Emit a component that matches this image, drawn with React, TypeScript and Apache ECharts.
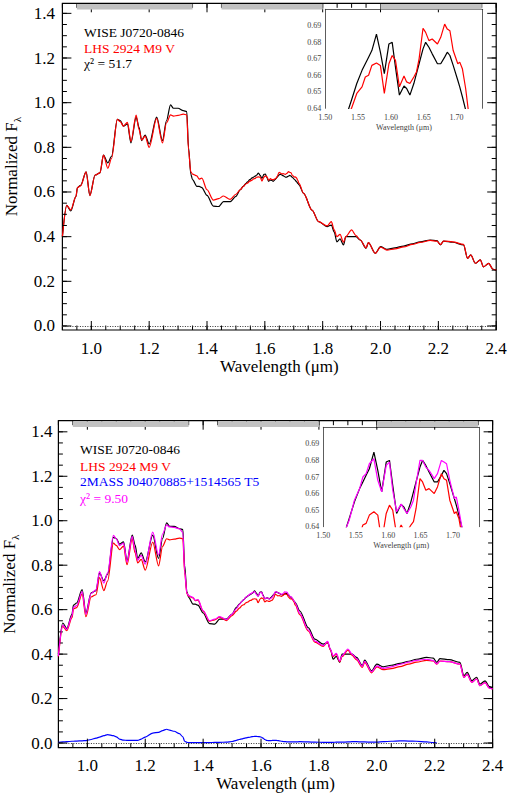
import React, { useEffect, useRef } from "react";
import * as echarts from "echarts";

const FONT = '"Liberation Serif", "Times New Roman", serif';

// Wavelength grid (micron)
const wavelength = [
  0.900, 0.915, 0.929, 0.947, 0.952, 0.963, 0.982, 0.995, 1.013, 1.030,
  1.042, 1.057, 1.070, 1.090, 1.100, 1.111, 1.125, 1.137, 1.155, 1.165,
  1.174, 1.186, 1.200, 1.226, 1.246, 1.260, 1.274, 1.284, 1.300, 1.318,
  1.330, 1.336, 1.344, 1.350, 1.365, 1.373, 1.382, 1.400, 1.422, 1.440,
  1.457, 1.480, 1.500, 1.515, 1.525, 1.535, 1.540, 1.548, 1.556, 1.561,
  1.566, 1.571, 1.578, 1.584, 1.590, 1.597, 1.602, 1.607, 1.613, 1.620,
  1.624, 1.629, 1.635, 1.639, 1.643, 1.649, 1.653, 1.658, 1.663, 1.671,
  1.676, 1.682, 1.686, 1.690, 1.695, 1.702, 1.705, 1.709, 1.714, 1.718,
  1.734, 1.763, 1.786, 1.815, 1.830, 1.840, 1.849, 1.860, 1.872, 1.880,
  1.900, 1.915, 1.930, 1.950, 1.958, 1.982, 2.000, 2.022, 2.050, 2.080,
  2.110, 2.137, 2.172, 2.195, 2.207, 2.218, 2.250, 2.287, 2.301, 2.312,
  2.328, 2.345, 2.356, 2.374, 2.389, 2.400,
];

// WISE J0720-0846 (black)
const wiseFlux = [
  0.40, 0.54, 0.515, 0.58, 0.62, 0.63, 0.69, 0.585, 0.676, 0.686,
  0.765, 0.73, 0.76, 0.925, 0.92, 0.895, 0.905, 0.82, 0.935, 0.89,
  0.83, 0.855, 0.815, 0.935, 0.83, 0.92, 0.99, 0.975, 0.975, 0.964,
  0.96, 0.80, 0.68, 0.655, 0.625, 0.625, 0.62, 0.585, 0.537, 0.535,
  0.557, 0.557, 0.58, 0.61, 0.625, 0.639, 0.645, 0.655, 0.663, 0.667,
  0.671, 0.675, 0.685, 0.674, 0.661, 0.679, 0.680, 0.665, 0.648, 0.6535,
  0.652, 0.648, 0.655, 0.661, 0.667, 0.676, 0.680, 0.677, 0.673, 0.667,
  0.667, 0.671, 0.674, 0.672, 0.666, 0.657, 0.653, 0.647, 0.639, 0.632,
  0.594, 0.519, 0.467, 0.445, 0.452, 0.42, 0.377, 0.39, 0.363, 0.40,
  0.40, 0.40, 0.385, 0.348, 0.373, 0.325, 0.355, 0.343, 0.35, 0.358,
  0.368, 0.377, 0.385, 0.382, 0.363, 0.38, 0.375, 0.363, 0.303, 0.318,
  0.281, 0.296, 0.265, 0.28, 0.254, 0.25,
];

// LHS 2924 M9 V, top panel normalisation (red)
const lhsTopFlux = [
  0.40, 0.54, 0.52, 0.58, 0.62, 0.627, 0.69, 0.584, 0.676, 0.686,
  0.765, 0.706, 0.75, 0.925, 0.915, 0.895, 0.912, 0.825, 0.944, 0.88,
  0.833, 0.85, 0.80, 0.93, 0.82, 0.91, 0.945, 0.94, 0.943, 0.949,
  0.945, 0.79, 0.69, 0.68, 0.672, 0.658, 0.662, 0.61, 0.564, 0.57,
  0.582, 0.567, 0.59, 0.61, 0.624, 0.637, 0.640, 0.649, 0.653, 0.659,
  0.660, 0.666, 0.6675, 0.666, 0.649, 0.667, 0.672, 0.669, 0.653, 0.6596,
  0.656, 0.655, 0.659, 0.662, 0.670, 0.6885, 0.686, 0.681, 0.682, 0.679,
  0.683, 0.691, 0.688, 0.687, 0.675, 0.667, 0.668, 0.664, 0.652, 0.639,
  0.594, 0.519, 0.467, 0.448, 0.467, 0.43, 0.40, 0.41, 0.375, 0.40,
  0.43, 0.405, 0.385, 0.35, 0.373, 0.325, 0.353, 0.34, 0.345, 0.354,
  0.365, 0.374, 0.383, 0.38, 0.365, 0.38, 0.377, 0.365, 0.303, 0.318,
  0.281, 0.296, 0.265, 0.28, 0.254, 0.25,
];

// LHS 2924 M9 V, bottom panel (red, composite fit component)
const lhsBottomFlux = [
  0.389, 0.525, 0.505, 0.564, 0.603, 0.609, 0.671, 0.568, 0.657, 0.667,
  0.744, 0.686, 0.729, 0.899, 0.889, 0.870, 0.886, 0.802, 0.918, 0.855,
  0.810, 0.826, 0.778, 0.904, 0.797, 0.885, 0.919, 0.914, 0.917, 0.922,
  0.919, 0.768, 0.671, 0.661, 0.653, 0.640, 0.643, 0.593, 0.548, 0.554,
  0.566, 0.551, 0.573, 0.593, 0.607, 0.619, 0.622, 0.631, 0.635, 0.641,
  0.642, 0.647, 0.649, 0.647, 0.631, 0.648, 0.653, 0.650, 0.635, 0.641,
  0.638, 0.637, 0.641, 0.643, 0.651, 0.669, 0.667, 0.662, 0.663, 0.660,
  0.664, 0.672, 0.669, 0.668, 0.656, 0.648, 0.649, 0.645, 0.634, 0.621,
  0.577, 0.504, 0.454, 0.435, 0.454, 0.418, 0.389, 0.399, 0.365, 0.389,
  0.418, 0.394, 0.374, 0.340, 0.363, 0.316, 0.343, 0.330, 0.335, 0.344,
  0.355, 0.364, 0.372, 0.369, 0.355, 0.369, 0.366, 0.355, 0.295, 0.309,
  0.273, 0.288, 0.258, 0.272, 0.247, 0.243,
];

// 2MASS J04070885+1514565 T5 component (blue)
const t5Flux = [
  0.003, 0.005, 0.006, 0.008, 0.008, 0.009, 0.010, 0.011, 0.016, 0.022,
  0.027, 0.033, 0.038, 0.033, 0.028, 0.018, 0.013, 0.012, 0.012, 0.012,
  0.012, 0.018, 0.027, 0.045, 0.048, 0.056, 0.062, 0.058, 0.053, 0.042,
  0.028, 0.008, 0.003, 0.002, 0.002, 0.002, 0.002, 0.002, 0.002, 0.003,
  0.003, 0.004, 0.007, 0.012, 0.016, 0.019, 0.021, 0.023, 0.025, 0.026,
  0.028, 0.029, 0.030, 0.030, 0.029, 0.028, 0.026, 0.022, 0.016, 0.012,
  0.011, 0.011, 0.011, 0.012, 0.012, 0.012, 0.012, 0.011, 0.010, 0.008,
  0.007, 0.006, 0.006, 0.005, 0.005, 0.005, 0.005, 0.005, 0.005, 0.005,
  0.006, 0.005, 0.004, 0.003, 0.003, 0.003, 0.003, 0.004, 0.004, 0.004,
  0.005, 0.006, 0.006, 0.005, 0.005, 0.004, 0.004, 0.006, 0.008, 0.010,
  0.009, 0.008, 0.005, 0.002, 0.001, null, null, null, null, null,
  null, null, null, null, null, null,
];

// Composite fit, chi^2 = 9.50 (magenta)
const fitFlux = [
  0.392, 0.530, 0.511, 0.572, 0.611, 0.618, 0.681, 0.579, 0.673, 0.689,
  0.771, 0.719, 0.766, 0.934, 0.919, 0.888, 0.899, 0.814, 0.930, 0.867,
  0.822, 0.844, 0.805, 0.949, 0.845, 0.941, 0.981, 0.972, 0.970, 0.964,
  0.947, 0.776, 0.674, 0.663, 0.655, 0.642, 0.645, 0.595, 0.550, 0.557,
  0.569, 0.555, 0.580, 0.605, 0.623, 0.639, 0.644, 0.656, 0.663, 0.670,
  0.672, 0.678, 0.681, 0.668, 0.661, 0.677, 0.679, 0.662, 0.649, 0.6536,
  0.651, 0.648, 0.652, 0.656, 0.666, 0.680, 0.680, 0.676, 0.674, 0.669,
  0.672, 0.680, 0.679, 0.678, 0.668, 0.657, 0.658, 0.650, 0.639, 0.630,
  0.583, 0.509, 0.458, 0.438, 0.457, 0.421, 0.392, 0.403, 0.369, 0.393,
  0.423, 0.399, 0.380, 0.345, 0.368, 0.320, 0.347, 0.336, 0.343, 0.354,
  0.364, 0.372, 0.377, 0.371, 0.356, 0.369, 0.366, 0.355, 0.295, 0.309,
  0.273, 0.288, 0.258, 0.272, 0.247, 0.243,
];

// J, H, K band markers along the top of each panel
const bandStart = [0.95, 1.45, 2.0];
const bandEnd = [1.35, 1.8, 2.35];

// Ticks
const xTickLabels = ["1.0", "1.2", "1.4", "1.6", "1.8", "2.0", "2.2", "2.4"];
const yTickLabels = ["0.0", "0.2", "0.4", "0.6", "0.8", "1.0", "1.2", "1.4"];
const insetXTickLabels = ["1.50", "1.55", "1.60", "1.65", "1.70"];
const insetYTickLabels = ["0.64", "0.65", "0.66", "0.67", "0.68", "0.69"];

const X_MIN = 0.9;
const X_MAX = 2.4;

function steps(from: number, to: number, step: number): number[] {
  const out: number[] = [];
  for (let i = 0; from + i * step <= to + 1e-9; i++) {
    out.push(Math.round((from + i * step) * 1000) / 1000);
  }
  return out;
}

const xMajor = xTickLabels.map(Number);
const yMajor = yTickLabels.map(Number);
const xMinor = steps(0.9, 2.4, 0.05);
const yMinor = steps(0, 1.4, 0.05);

function pairs(ys: (number | null)[]) {
  return wavelength.map((w, i) => [w, ys[i]]);
}

export default function App() {
  const ref = useRef<HTMLDivElement>(null);

  useEffect(() => {
    if (!ref.current) return;
    const chart = echarts.init(ref.current, undefined, { renderer: "svg" });

    const grids: any[] = [];
    const xAxes: any[] = [];
    const yAxes: any[] = [];
    const series: any[] = [];

    function addMain(
      g: { left: number; top: number; width: number; height: number },
      yMin: number,
      yMax: number,
      yNameGap: number,
      xNameGap: number,
      xLabelMargin: number,
      yLabelMargin: number
    ) {
      const gi = grids.length;
      grids.push({
        ...g,
        show: true,
        borderColor: "#000",
        borderWidth: 1.2,
        backgroundColor: "transparent",
        outerBoundsMode: "none",
        containLabel: false,
      });
      const xi = xAxes.length;
      const yi = yAxes.length;
      xAxes.push({
        gridIndex: gi,
        type: "value",
        min: X_MIN,
        max: X_MAX,
        position: "bottom",
        splitLine: { show: false },
        axisLine: { show: false, onZero: false },
        axisTick: { show: false },
        axisLabel: {
          show: true,
          customValues: xMajor,
          formatter: (v: number) => v.toFixed(1),
          margin: xLabelMargin,
          fontSize: 17,
          fontFamily: FONT,
          color: "#000",
          showMaxLabel: true,
          showMinLabel: true,
        },
        name: "Wavelength (μm)",
        nameLocation: "middle",
        nameGap: xNameGap,
        nameTextStyle: { fontSize: 17, fontFamily: FONT, color: "#000" },
      });
      yAxes.push({
        gridIndex: gi,
        type: "value",
        min: yMin,
        max: yMax,
        position: "left",
        splitLine: { show: false },
        axisLine: { show: false, onZero: false },
        axisTick: { show: false },
        axisLabel: {
          show: true,
          customValues: yMajor,
          formatter: (v: number) => v.toFixed(1),
          margin: yLabelMargin,
          fontSize: 17,
          fontFamily: FONT,
          color: "#000",
        },
        name: "{a|Normalized F}{s|λ}",
        nameLocation: "middle",
        nameGap: yNameGap,
        nameTextStyle: {
          fontSize: 17,
          fontFamily: FONT,
          color: "#000",
          rich: {
            a: { fontSize: 17, fontFamily: FONT, color: "#000", lineHeight: 22 },
            s: { fontSize: 11, fontFamily: FONT, color: "#000", lineHeight: 11, verticalAlign: "bottom" },
          },
        },
      });

      // tick marks on all four sides, placed through the axes' scales
      const tickItems = [
        ...xMajor.map((v) => [v, 0]),
        ...xMinor.map((v) => [v, 1]),
        ...yMajor.map((v) => [v, 2]),
        ...yMinor.map((v) => [v, 3]),
      ];
      series.push({
        type: "custom",
        xAxisIndex: xi,
        yAxisIndex: yi,
        z: 4,
        silent: true,
        clip: false,
        data: tickItems,
        renderItem: (_p: any, api: any) => {
          const v = api.value(0);
          const kind = api.value(1);
          const L = kind === 0 || kind === 2 ? 9 : 4.5;
          const style = { stroke: "#000", lineWidth: 1 };
          if (kind < 2) {
            const b = api.coord([v, yMin]);
            const t = api.coord([v, yMax]);
            return {
              type: "group",
              children: [
                { type: "line", shape: { x1: b[0], y1: b[1], x2: b[0], y2: b[1] - L }, style },
                { type: "line", shape: { x1: t[0], y1: t[1], x2: t[0], y2: t[1] + L }, style },
              ],
            };
          }
          const l = api.coord([X_MIN, v]);
          const r = api.coord([X_MAX, v]);
          return {
            type: "group",
            children: [
              { type: "line", shape: { x1: l[0], y1: l[1], x2: l[0] + L, y2: l[1] }, style },
              { type: "line", shape: { x1: r[0], y1: r[1], x2: r[0] - L, y2: r[1] }, style },
            ],
          };
        },
      });

      // band markers
      series.push({
        type: "custom",
        xAxisIndex: xi,
        yAxisIndex: yi,
        z: 5,
        silent: true,
        clip: false,
        data: bandStart.map((b, i) => [b, bandEnd[i]]),
        renderItem: (_p: any, api: any) => {
          const p0 = api.coord([api.value(0), yMax]);
          const p1 = api.coord([api.value(1), yMax]);
          return {
            type: "rect",
            shape: { x: p0[0], y: p0[1] + 0.6, width: p1[0] - p0[0], height: 5.6 },
            style: { fill: "#c2c2c2" },
          };
        },
      });
      return { xi, yi };
    }

    function addInset(g: { left: number; top: number; width: number; height: number }) {
      const gi = grids.length;
      grids.push({ ...g, outerBoundsMode: "none", containLabel: false });
      const xi = xAxes.length;
      const yi = yAxes.length;
      const frame = { color: "#333", width: 0.8 };
      const lbl = { fontSize: 8, fontFamily: FONT, color: "#444" };
      xAxes.push(
        {
          gridIndex: gi,
          type: "value",
          min: 1.5,
          max: 1.74,
          position: "bottom",
          splitLine: { show: false },
          axisLine: { show: false, onZero: false },
          axisTick: { show: false },
          axisLabel: {
            ...lbl,
            show: true,
            customValues: insetXTickLabels.map(Number),
            formatter: (v: number) => v.toFixed(2),
            margin: 5,
          },
          name: "Wavelength (μm)",
          nameLocation: "middle",
          nameGap: 15,
          nameTextStyle: lbl,
        },
        {
          gridIndex: gi,
          type: "value",
          min: 1.5,
          max: 1.74,
          position: "top",
          splitLine: { show: false },
          axisLine: { show: true, onZero: false, lineStyle: frame },
          axisTick: { show: false },
          axisLabel: { show: false },
        }
      );
      yAxes.push(
        {
          gridIndex: gi,
          type: "value",
          min: 0.64,
          max: 0.7,
          position: "left",
          splitLine: { show: false },
          axisLine: { show: true, onZero: false, lineStyle: frame },
          axisTick: { show: false },
          axisLabel: {
            ...lbl,
            show: true,
            customValues: insetYTickLabels.map(Number),
            formatter: (v: number) => v.toFixed(2),
            margin: 4,
          },
        },
        {
          gridIndex: gi,
          type: "value",
          min: 0.64,
          max: 0.7,
          position: "right",
          splitLine: { show: false },
          axisLine: { show: true, onZero: false, lineStyle: frame },
          axisTick: { show: false },
          axisLabel: { show: false },
        }
      );
      return { xi, yi };
    }

    const lineSeries = (
      name: string,
      data: any[],
      color: string,
      xi: number,
      yi: number,
      z = 2,
      smooth: number | boolean = false
    ) => ({
      type: "line",
      name,
      data,
      xAxisIndex: xi,
      yAxisIndex: yi,
      showSymbol: false,
      symbol: "none",
      connectNulls: false,
      clip: true,
      smooth,
      smoothMonotone: "x",
      z,
      lineStyle: { color, width: 1.2 },
      itemStyle: { color },
    });

    const zeroLine = {
      silent: true,
      symbol: "none",
      label: { show: false },
      lineStyle: { color: "#333", width: 1, type: [1, 1.5] },
      data: [{ yAxis: 0 }],
    };

    const S = 0.3;

    // Top panel
    const top = addMain({ left: 62.4, top: 3.3, width: 433.8, height: 326.7 }, -0.018, 1.445, 40, 28, 10, 7.5);
    series.push({ ...lineSeries("WISE J0720-0846", pairs(wiseFlux), "#000", top.xi, top.yi, 2, S), markLine: zeroLine });
    series.push(lineSeries("LHS 2924 M9 V", pairs(lhsTopFlux), "#ff0000", top.xi, top.yi, 3, S));
    const topInset = addInset({ left: 325.3, top: 9.3, width: 157.4, height: 99 });
    series.push(lineSeries("WISE inset", pairs(wiseFlux), "#000", topInset.xi, topInset.yi, 2));
    series.push(lineSeries("LHS inset", pairs(lhsTopFlux), "#ff0000", topInset.xi, topInset.yi, 3));

    // Bottom panel
    const bot = addMain({ left: 58.4, top: 420.7, width: 434.2, height: 327 }, -0.021, 1.45, 38, 27, 9, 6);
    series.push({ ...lineSeries("WISE J0720-0846 b", pairs(wiseFlux), "#000", bot.xi, bot.yi, 2, S), markLine: zeroLine });
    series.push(lineSeries("LHS 2924 M9 V b", pairs(lhsBottomFlux), "#ff0000", bot.xi, bot.yi, 3, S));
    series.push(lineSeries("2MASS J04070885+1514565 T5", pairs(t5Flux), "#0000ff", bot.xi, bot.yi, 3, S));
    series.push(lineSeries("Fit", pairs(fitFlux), "#ff00ff", bot.xi, bot.yi, 4, S));
    const botInset = addInset({ left: 323.3, top: 427.3, width: 155.7, height: 99.4 });
    series.push(lineSeries("WISE inset b", pairs(wiseFlux), "#000", botInset.xi, botInset.yi, 2));
    series.push(lineSeries("LHS inset b", pairs(lhsBottomFlux), "#ff0000", botInset.xi, botInset.yi, 3));
    series.push(lineSeries("Fit inset", pairs(fitFlux), "#ff00ff", botInset.xi, botInset.yi, 4));

    const legendText = (text: string, x: number, y: number, fill: string) => ({
      type: "text",
      x,
      y,
      style: { text, fill, fontSize: 13.5, fontFamily: FONT, verticalAlign: "middle", align: "left" },
    });

    chart.setOption({
      animation: false,
      backgroundColor: "#fff",
      grid: grids,
      xAxis: xAxes,
      yAxis: yAxes,
      series,
      graphic: [
        legendText("WISE J0720-0846", 84, 32, "#000"),
        legendText("LHS 2924 M9 V", 84, 48, "#ff0000"),
        legendText("χ² = 51.7", 84, 63.5, "#000"),
        legendText("WISE J0720-0846", 80, 449.5, "#000"),
        legendText("LHS 2924 M9 V", 80, 466, "#ff0000"),
        legendText("2MASS J04070885+1514565 T5", 80, 481.5, "#0000ff"),
        legendText("χ² = 9.50", 80, 498.5, "#ff00ff"),
      ],
    });

    return () => chart.dispose();
  }, []);

  return (
    <div
      ref={ref}
      style={{ position: "absolute", left: 0, top: 0, width: 508, height: 794, background: "#fff" }}
    />
  );
}
